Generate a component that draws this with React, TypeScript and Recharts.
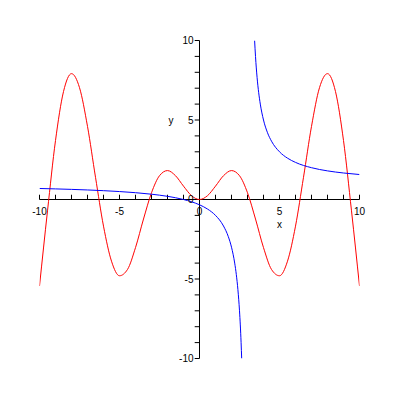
import React from 'react'
import { LineChart, Line, XAxis, YAxis, ReferenceLine, ReferenceDot } from 'recharts'

// red curve, sampled every 0.5
const RED_X = [
  -10, -9.5, -9, -8.5, -8, -7.5, -7, -6.5, -6, -5.5, -5, -4.5, -4, -3.5, -3, -2.5, -2, -1.5, -1, -0.5,
  0, 0.5, 1, 1.5, 2, 2.5, 3, 3.5, 4, 4.5, 5, 5.5, 6, 6.5, 7, 7.5, 8, 8.5, 9, 9.5, 10,
]
const RED_Y = [
  -5.44, -0.714, 3.709, 6.787, 7.915, 7.035, 4.599, 1.398, -1.676, -3.88, -4.795, -4.399, -3.027, -1.228, 0.423, 1.496, 1.819, 1.496, 0.841, 0.24,
  0, 0.24, 0.841, 1.496, 1.819, 1.496, 0.423, -1.228, -3.027, -4.399, -4.795, -3.88, -1.676, 1.398, 4.599, 7.035, 7.915, 6.787, 3.709, -0.714, -5.44,
]

// blue curve, two branches either side of the jump near x=3
const BLUE_L_X = [-10, -9, -8, -7, -6, -5, -4, -3, -2, -1, -0.5, 0, 0.5, 1, 1.5, 1.8, 2, 2.2, 2.3, 2.4, 2.5, 2.55, 2.6, 2.636]
const BLUE_L_Y = [0.692, 0.667, 0.636, 0.6, 0.556, 0.5, 0.429, 0.333, 0.2, 0, -0.143, -0.333, -0.6, -1, -1.667, -2.333, -3, -4, -4.714, -5.667, -7, -7.889, -9, -10]
const BLUE_R_X = [3.444, 3.5, 3.6, 3.7, 3.8, 4, 4.25, 4.5, 5, 5.5, 6, 7, 8, 9, 10]
const BLUE_R_Y = [10, 9, 7.667, 6.714, 6, 5, 4.2, 3.667, 3, 2.6, 2.333, 2, 1.8, 1.667, 1.571]

const TICKS = [-10, -9, -8, -7, -6, -5, -4, -3, -2, -1, 1, 2, 3, 4, 5, 6, 7, 8, 9, 10]
const X_LABELS = [-10, -5, 0, 5, 10]
const Y_LABELS = [-10, -5, 0, 5, 10]

const zip = (xs: number[], ys: number[]) => xs.map((x, i) => ({ x, y: ys[i] }))
const red = zip(RED_X, RED_Y)
const blueL = zip(BLUE_L_X, BLUE_L_Y)
const blueR = zip(BLUE_R_X, BLUE_R_Y)

const font = { fontSize: 10, fontFamily: '"Liberation Sans", Arial, sans-serif', fill: '#000' }
const TICK_LEN = 0.3

export default function App() {
  return (
    <LineChart
      width={384}
      height={384}
      margin={{ top: 32.5, right: 32.5, bottom: 33.5, left: 31.5 }}
      style={{ background: '#fff' }}
    >
      <XAxis type="number" dataKey="x" domain={[-10, 10]} hide allowDataOverflow />
      <YAxis type="number" dataKey="y" domain={[-10, 10]} hide allowDataOverflow />

      <ReferenceLine y={0} stroke="#000" strokeWidth={1} />
      <ReferenceLine x={0} stroke="#000" strokeWidth={1} />
      {TICKS.map((t) => (
        <ReferenceLine key={'xt' + t} segment={[{ x: t, y: 0 }, { x: t, y: TICK_LEN }]} stroke="#000" ifOverflow="visible" />
      ))}
      {TICKS.map((t) => (
        <ReferenceLine key={'yt' + t} segment={[{ x: 0, y: t }, { x: -TICK_LEN, y: t }]} stroke="#000" ifOverflow="visible" />
      ))}
      {X_LABELS.map((t) => (
        <ReferenceDot key={'xl' + t} x={t} y={0} r={0} stroke="none" ifOverflow="visible"
          label={{ value: String(t), position: 'bottom', offset: 8, ...font }} />
      ))}
      {Y_LABELS.map((t) => (
        <ReferenceDot key={'yl' + t} x={0} y={t} r={0} stroke="none" ifOverflow="visible"
          label={{ value: String(t), position: 'left', offset: 6, ...font }} />
      ))}
      <ReferenceDot x={5} y={0} r={0} stroke="none" ifOverflow="visible"
        label={{ value: 'x', position: 'bottom', offset: 21, ...font }} />
      <ReferenceDot x={0} y={5} r={0} stroke="none" ifOverflow="visible"
        label={{ value: 'y', position: 'left', offset: 26, ...font }} />

      <Line data={red} dataKey="y" type="monotone" stroke="#ff0000" strokeWidth={1} dot={false} activeDot={false} isAnimationActive={false} />
      <Line data={blueL} dataKey="y" type="monotone" stroke="#0000ff" strokeWidth={1} dot={false} activeDot={false} isAnimationActive={false} />
      <Line data={blueR} dataKey="y" type="monotone" stroke="#0000ff" strokeWidth={1} dot={false} activeDot={false} isAnimationActive={false} />
    </LineChart>
  )
}
